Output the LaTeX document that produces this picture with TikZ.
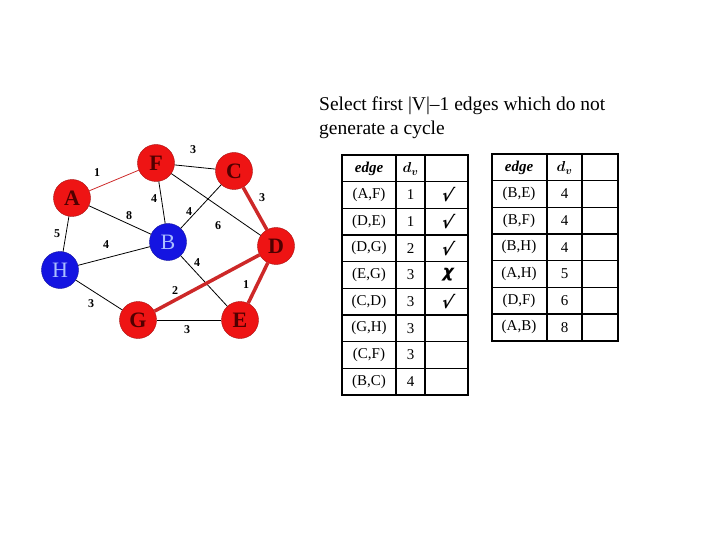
\documentclass[tikz,border=0pt]{standalone}
\usepackage{amsmath}
\usepackage{fontspec}
\setmainfont{Liberation Serif}
\newfontfamily\tickfont{DejaVu Sans}
\usetikzlibrary{positioning}
\definecolor{vred}{RGB}{238,20,20}
\definecolor{vblue}{RGB}{20,20,225}
\definecolor{lred}{RGB}{80,0,0}
\definecolor{lblue}{RGB}{170,190,255}
\definecolor{tred}{RGB}{205,40,40}

\begin{document}
\begin{tikzpicture}[
  x=1pt, y=-1pt,
  vtx/.style={circle, minimum size=37pt, inner sep=0pt, font=\fontsize{22}{22}\selectfont},
  rvtx/.style={vtx, fill=vred, draw=vred!70!black, text=lred, font=\bfseries\fontsize{22}{22}\selectfont},
  bvtx/.style={vtx, fill=vblue, draw=vblue!70!black, text=lblue},
  wgt/.style={font=\bfseries\fontsize{12}{12}\selectfont, inner sep=1pt},
  plain/.style={line width=0.8pt},
  tree/.style={line width=3.5pt, tred},
  cell/.style={font=\fontsize{15}{15}\selectfont, inner sep=0pt},
  head/.style={font=\bfseries\itshape\fontsize{15}{15}\selectfont, inner sep=0pt},
  tick/.style={font=\tickfont\bfseries\fontsize{17}{17}\selectfont, inner sep=0pt, xslant=0.25, transform shape}
]
  \useasboundingbox (0,0) rectangle (720,540);

  % Title
  \node[anchor=north west, align=left, font=\fontsize{19.5}{24}\selectfont, inner sep=0pt] (title) at (319,97)
    {Select first |V|--1 edges which do not\\generate a cycle};

  % Vertices
  \node[rvtx] (F) at (156,163) {F};
  \node[rvtx] (C) at (234,171) {C};
  \node[rvtx] (A) at (72,198) {A};
  \node[bvtx] (B) at (168,242) {B};
  \node[rvtx] (D) at (276,246) {D};
  \node[bvtx] (H) at (60,270) {H};
  \node[rvtx] (G) at (138,320) {G};
  \node[rvtx] (E) at (240,320) {E};

  % Edges
  \draw[plain] (F) -- (C);
  \draw[plain] (F) -- (B);
  \draw[plain] (C) -- (B);
  \draw[plain] (F) -- (D);
  \draw[plain] (A) -- (B);
  \draw[plain] (A) -- (H);
  \draw[plain] (H) -- (B);
  \draw[plain] (B) -- (E);
  \draw[plain] (H) -- (G);
  \draw[plain] (G) -- (E);
  \draw[line width=0.8pt, tred] (A) -- (F);
  \draw[tree] (C) -- (D);
  \draw[tree] (D) -- (G);
  \draw[tree] (D) -- (E);

  % Weights
  \node[wgt] (wAF) at (97,173) {1};
  \node[wgt] (wFC) at (193,150) {3};
  \node[wgt] (wCD) at (262,198) {3};
  \node[wgt] (wFB) at (154,199) {4};
  \node[wgt] (wCB) at (189,212) {4};
  \node[wgt] (wAB) at (129,216) {8};
  \node[wgt] (wFD) at (218,226) {6};
  \node[wgt] (wAH) at (57,234) {5};
  \node[wgt] (wHB) at (106,245) {4};
  \node[wgt] (wBE) at (197,263) {4};
  \node[wgt] (wDG) at (175,291) {2};
  \node[wgt] (wDE) at (246,285) {1};
  \node[wgt] (wHG) at (91,304) {3};
  \node[wgt] (wGE) at (187,330) {3};

  % Left table
  \foreach \y in {155,181.67,...,396} \draw[line width=1.3pt] (342,\y) -- (468,\y);
  \foreach \x in {396,425} \draw[line width=1.3pt] (\x,155) -- (\x,395);
  \draw[line width=2pt] (342,155) rectangle (468,395);
  \node[head] (lh1) at (369,169) {edge};
  \node[head] (lh2) at (410.5,169) {$\boldsymbol{d_v}$};
  \foreach \e/\d/\m [count=\i] in {(A,F)/1/√, (D,E)/1/√, (D,G)/2/√, (E,G)/3/χ, (C,D)/3/√, (G,H)/3/, (C,F)/3/, (B,C)/4/} {
    \node[cell] (le\i) at (369,{168.3+26.67*\i}) {\e};
    \node[cell] (ld\i) at (410.5,{168.3+26.67*\i}) {\d};
    \node[tick] (lm\i) at (448,{168.3+26.67*\i}) {\m};
  }

  % Right table
  \foreach \y in {154,180.67,...,342} \draw[line width=1.3pt] (492,\y) -- (618,\y);
  \foreach \x in {547,582} \draw[line width=1.3pt] (\x,154) -- (\x,340.7);
  \draw[line width=2pt] (492,154) rectangle (618,340.7);
  \node[head] (rh1) at (519,168) {edge};
  \node[head] (rh2) at (564.5,168) {$\boldsymbol{d_v}$};
  \foreach \e/\d [count=\i] in {(B,E)/4, (B,F)/4, (B,H)/4, (A,H)/5, (D,F)/6, (A,B)/8} {
    \node[cell] (re\i) at (519,{167.3+26.67*\i}) {\e};
    \node[cell] (rd\i) at (564.5,{167.3+26.67*\i}) {\d};
  }
\end{tikzpicture}
\end{document}
